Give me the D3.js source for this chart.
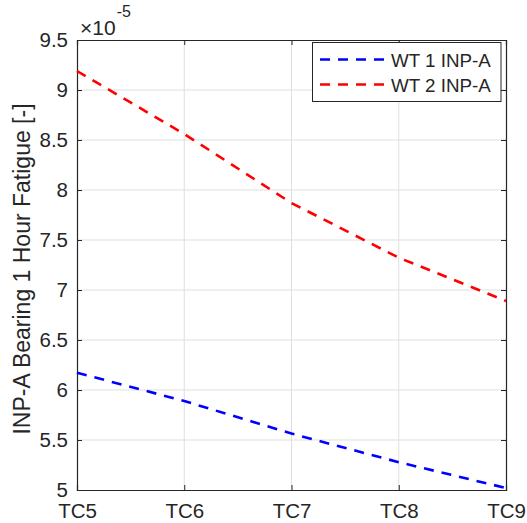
<!DOCTYPE html>
<html><head><meta charset="utf-8">
<script src="https://cdn.jsdelivr.net/npm/d3@7"></script>
<style>body{margin:0;background:#fff;} text{font-family:"Liberation Sans",Arial,Helvetica,sans-serif;fill:#262626;}</style>
</head><body>
<svg id="c" width="527" height="523"></svg>
<script>
const categories = ["TC5","TC6","TC7","TC8","TC9"];
const wt1 = [6.173, 5.89, 5.564, 5.278, 5.02];
const wt2 = [9.19, 8.56, 7.87, 7.323, 6.89];
const yTicks = [5,5.5,6,6.5,7,7.5,8,8.5,9,9.5];
const seriesNames = ["WT 1 INP-A","WT 2 INP-A"];
const seriesColors = ["#0000ff","#ff0000"];
const yLabel = "INP-A Bearing 1 Hour Fatigue [-]";

const W=527,H=523, L=77, R=506, T=40, B=490;
const svg=d3.select("#c");
const x=d3.scalePoint().domain(categories).range([L,R]);
const y=d3.scaleLinear().domain([5,9.5]).range([B,T]);
const ax="#262626", grid="#dfdfdf";

// grid
svg.append("g").selectAll("line").data(categories.slice(1,-1)).join("line")
  .attr("x1",d=>x(d)).attr("x2",d=>x(d)).attr("y1",T).attr("y2",B)
  .attr("stroke",grid).attr("stroke-width",1);
svg.append("g").selectAll("line").data(yTicks.slice(1,-1)).join("line")
  .attr("y1",d=>y(d)).attr("y2",d=>y(d)).attr("x1",L).attr("x2",R)
  .attr("stroke",grid).attr("stroke-width",1);

// axes via d3 axis
const fmt=d=>String(d);
const gB=svg.append("g").attr("transform",`translate(0,${B})`)
  .call(d3.axisBottom(x).tickSize(-5).tickPadding(13));
const gT=svg.append("g").attr("transform",`translate(0,${T})`)
  .call(d3.axisTop(x).tickSize(-5).tickFormat(""));
const gL=svg.append("g").attr("transform",`translate(${L},0)`)
  .call(d3.axisLeft(y).tickValues(yTicks).tickFormat(fmt).tickSize(-5).tickPadding(9));
const gR=svg.append("g").attr("transform",`translate(${R},0)`)
  .call(d3.axisRight(y).tickValues(yTicks).tickSize(-5).tickFormat(""));
[gB,gT,gL,gR].forEach(g=>{
  g.select(".domain").attr("stroke",ax).attr("stroke-width",1.2);
  g.selectAll(".tick line").attr("stroke",ax).attr("stroke-width",1);
  g.selectAll("text").attr("font-size",20.5).attr("fill",ax)
   .style("font-family","'Liberation Sans',Arial,sans-serif");
});
gB.selectAll(".tick text").attr("dy","0.72em");

// exponent
const ex=svg.append("text").attr("x",80).attr("y",35).attr("font-size",21);
ex.append("tspan").text("\u00d710");
ex.append("tspan").attr("font-size",16).attr("dy",-18.5).attr("dx",1).text("-5");

// y label
svg.append("text").attr("transform",`translate(30,${(T+B)/2+4}) rotate(-90)`)
  .attr("text-anchor","middle").attr("font-size",23).text(yLabel);

// lines
const line=d3.line().x((d,i)=>x(categories[i])).y(d=>y(d));
[wt1,wt2].forEach((s,k)=>{
  svg.append("path").attr("d",line(s)).attr("fill","none")
    .attr("stroke",seriesColors[k]).attr("stroke-width",2.6)
    .attr("stroke-dasharray","10,8");
});

// legend
const lg=svg.append("g");
lg.append("rect").attr("x",312.5).attr("y",42.5).attr("width",188.5).attr("height",59)
  .attr("fill","#fff").attr("stroke",ax).attr("stroke-width",1);
seriesNames.forEach((n,k)=>{
  const yy=59.5+k*25;
  lg.append("line").attr("x1",320).attr("x2",386).attr("y1",yy).attr("y2",yy)
    .attr("stroke",seriesColors[k]).attr("stroke-width",2.6).attr("stroke-dasharray","10,8");
  lg.append("text").attr("x",391).attr("y",yy+7).attr("font-size",18.8).attr("fill","#000").text(n);
});
</script>
</body></html>
